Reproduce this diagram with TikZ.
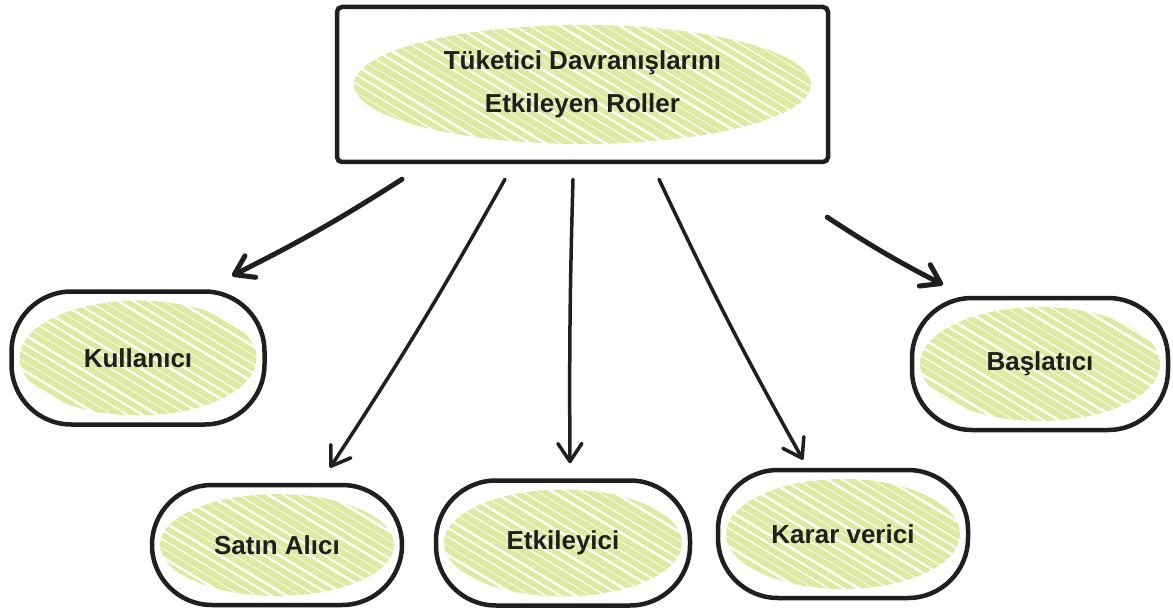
\documentclass[tikz,border=0pt]{standalone}
\usepackage{fontspec}
\setmainfont{Liberation Sans}
\usetikzlibrary{calc,arrows.meta}
\definecolor{hg}{HTML}{E0E9A2}
\definecolor{ink}{HTML}{1E1F1F}
\begin{document}
\begin{tikzpicture}[x=1pt,y=-1pt,
  hatch/.style 2 args={path picture={
    \fill[hg] let \p1=(path picture bounding box.north east), \p2=(path picture bounding box.south west) in
      (path picture bounding box.center) ellipse [x radius={(\x1-\x2)/2-#1}, y radius={(\y1-\y2)/2-#2}];
    \foreach \k in {-30,...,30}{
      \pgfmathsetmacro{\lw}{0.6+0.6*mod(abs(\k)*7,4)}
      \draw[white, line width=\lw pt] ($(path picture bounding box.center)+(\k*15pt,0pt)+(-200pt,120pt)$) -- ++(400pt,-240pt);
    }
  }},
  role/.style={draw=ink, line width=4.5pt, text=ink, font=\bfseries\fontsize{26pt}{43pt}\selectfont, align=center},
  blob/.style={role, rounded corners=60pt, hatch={8pt}{9pt}},
  arr/.style={draw=ink, line width=3.5pt, line cap=round, -{Straight Barb[length=18pt,width=24pt,round]}}
]
\useasboundingbox (0,0) rectangle (1173,615);

\node[role, rounded corners=5pt, hatch={17pt}{18pt}, minimum width=491pt, minimum height=155pt] (top) at (582.5,84.5) {Tüketici Davranışlarını\\Etkileyen Roller};

\node[blob, minimum width=253pt, minimum height=133pt] (kul) at (138,358) {Kullanıcı};
\node[blob, minimum width=250pt, minimum height=120pt] (sat) at (277,545) {Satın Alıcı};
\node[blob, minimum width=254pt, minimum height=125pt] (etk) at (563,543) {Etkileyici};
\node[blob, minimum width=250pt, minimum height=128pt] (kar) at (843,534) {Karar verici};
\node[blob, minimum width=256pt, minimum height=132pt] (bas) at (1040,364) {Başlatıcı};

\draw[arr, line width=5pt] ($(top.south)+(-180.5,15)$) to[bend left=3] ($(kul.north)+(94,-13.5)$);
\draw[arr] ($(top.south)+(-77.5,15)$) to[bend left=2] ($(sat.north)+(53,-15)$);
\draw[arr] ($(top.south)+(-9.5,15)$) to[bend right=1] ($(etk.north)+(7,-15)$);
\draw[arr] ($(top.south)+(76.5,15)$) to[bend right=2] ($(kar.north)+(-40,-8)$);
\draw[arr, line width=5pt] ($(top.south east)+(-3,53)$) to[bend right=3] ($(bas.north)+(-97,-11)$);
\end{tikzpicture}
\end{document}
